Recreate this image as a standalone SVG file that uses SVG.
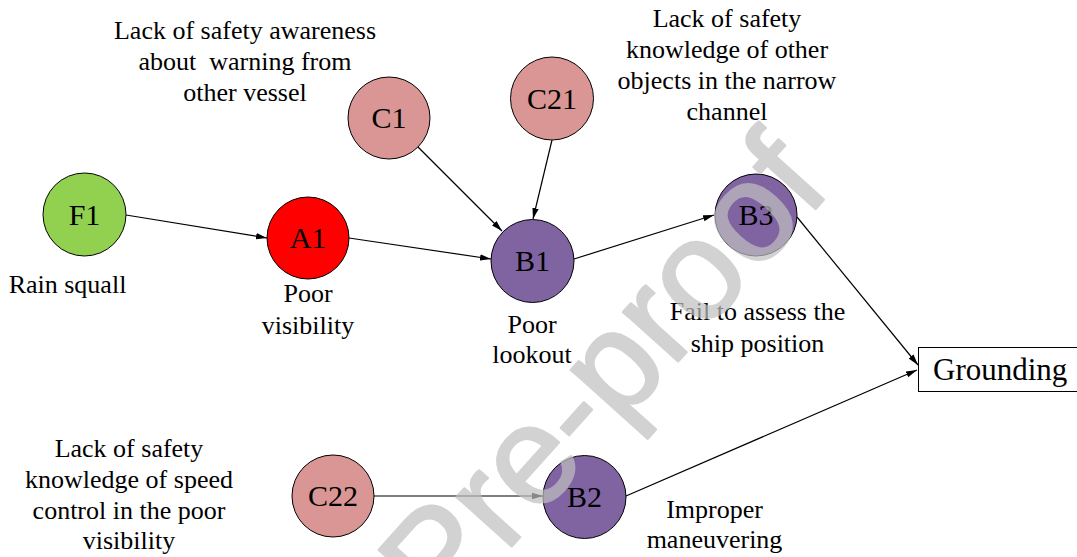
<svg xmlns="http://www.w3.org/2000/svg" width="1077" height="557" viewBox="0 0 1077 557">
<style>
  .node { stroke: #000; stroke-width: 1; }
  .f { fill: #92D050; }
  .a { fill: #FF0000; }
  .b { fill: #8064A2; }
  .c { fill: #D99694; }
  text { font-family: 'Liberation Serif', 'Times New Roman', Times, 'DejaVu Serif', serif; }
  .lbl { font-size: 30px; text-anchor: middle; fill: #000; }
  .cap { font-size: 26px; text-anchor: middle; fill: #000; white-space: pre; }
  .conn line { stroke: #000; stroke-width: 1.2; marker-end: url(#arr); }
  text.wm { font-family: 'Liberation Sans', Arial, sans-serif; font-size: 140px; text-anchor: middle; fill: #c0c0c0; stroke: #c0c0c0; stroke-width: 2.5; stroke-linejoin: round; opacity: 0.7; }
</style>
<defs>
  <marker id="arr" markerUnits="userSpaceOnUse" markerWidth="12" markerHeight="8" refX="11" refY="4" orient="auto">
    <path d="M0,0.8 L11,4 L0,7.2 Z" fill="#000"/>
  </marker>
</defs>
<rect width="1077" height="557" fill="#fff"/>

<g id="connectors" class="conn">
  <line x1="126" y1="215" x2="267" y2="238"/>
  <line x1="349" y1="238" x2="491" y2="259"/>
  <line x1="418" y1="147" x2="502" y2="231"/>
  <line x1="552" y1="140" x2="533" y2="219"/>
  <line x1="574" y1="259" x2="714" y2="215"/>
  <line x1="797" y1="217" x2="918" y2="365"/>
  <line x1="626" y1="496" x2="917" y2="370"/>
  <line x1="374" y1="496" x2="543" y2="496"/>
</g>

<g id="F1">
  <circle class="node f" cx="84.5" cy="214.5" r="41.5"/>
  <text class="lbl" x="84.5" y="225">F1</text>
  <text class="cap" x="67.5" y="293">Rain squall</text>
</g>
<g id="A1">
  <circle class="node a" cx="308" cy="238" r="41"/>
  <text class="lbl" x="308" y="248">A1</text>
  <text class="cap" x="308" y="302">Poor</text>
  <text class="cap" x="308" y="334">visibility</text>
</g>
<g id="C1">
  <circle class="node c" cx="389" cy="118" r="41"/>
  <text class="lbl" x="389" y="128">C1</text>
  <text class="cap" x="245" y="39">Lack of safety awareness</text>
  <text class="cap" x="245" y="70">about  warning from</text>
  <text class="cap" x="245" y="101">other vessel</text>
</g>
<g id="C21">
  <circle class="node c" cx="552" cy="98.5" r="41.5"/>
  <text class="lbl" x="552" y="109">C21</text>
  <text class="cap" x="727" y="27">Lack of safety</text>
  <text class="cap" x="727" y="58">knowledge of other</text>
  <text class="cap" x="727" y="89">objects in the narrow</text>
  <text class="cap" x="727" y="120">channel</text>
</g>
<g id="B1">
  <circle class="node b" cx="532.5" cy="261" r="41.5"/>
  <text class="lbl" x="532.5" y="271">B1</text>
  <text class="cap" x="532" y="333">Poor</text>
  <text class="cap" x="532" y="363">lookout</text>
</g>
<g id="B3">
  <circle class="node b" cx="756" cy="215" r="41"/>
  <text class="lbl" x="756" y="225">B3</text>
  <text class="cap" x="757.5" y="320">Fail to assess the</text>
  <text class="cap" x="757.5" y="352">ship position</text>
</g>
<g id="C22">
  <circle class="node c" cx="333" cy="496" r="41"/>
  <text class="lbl" x="333" y="506">C22</text>
  <text class="cap" x="129" y="457">Lack of safety</text>
  <text class="cap" x="129" y="488">knowledge of speed</text>
  <text class="cap" x="129" y="519">control in the poor</text>
  <text class="cap" x="129" y="549">visibility</text>
</g>
<g id="B2">
  <circle class="node b" cx="584.5" cy="497" r="41.5"/>
  <text class="lbl" x="584.5" y="507">B2</text>
  <text class="cap" x="714.5" y="518">Improper</text>
  <text class="cap" x="714.5" y="548">maneuvering</text>
</g>
<g id="Grounding">
  <rect x="918.5" y="347.5" width="170" height="44" fill="#fff" stroke="#000" stroke-width="1"/>
  <text class="lbl" x="933" y="380" style="text-anchor:start;font-size:31px">Grounding</text>
</g>

<text class="wm" transform="translate(638,406) rotate(-48)" x="0" y="0">Pre-proof</text>
</svg>
